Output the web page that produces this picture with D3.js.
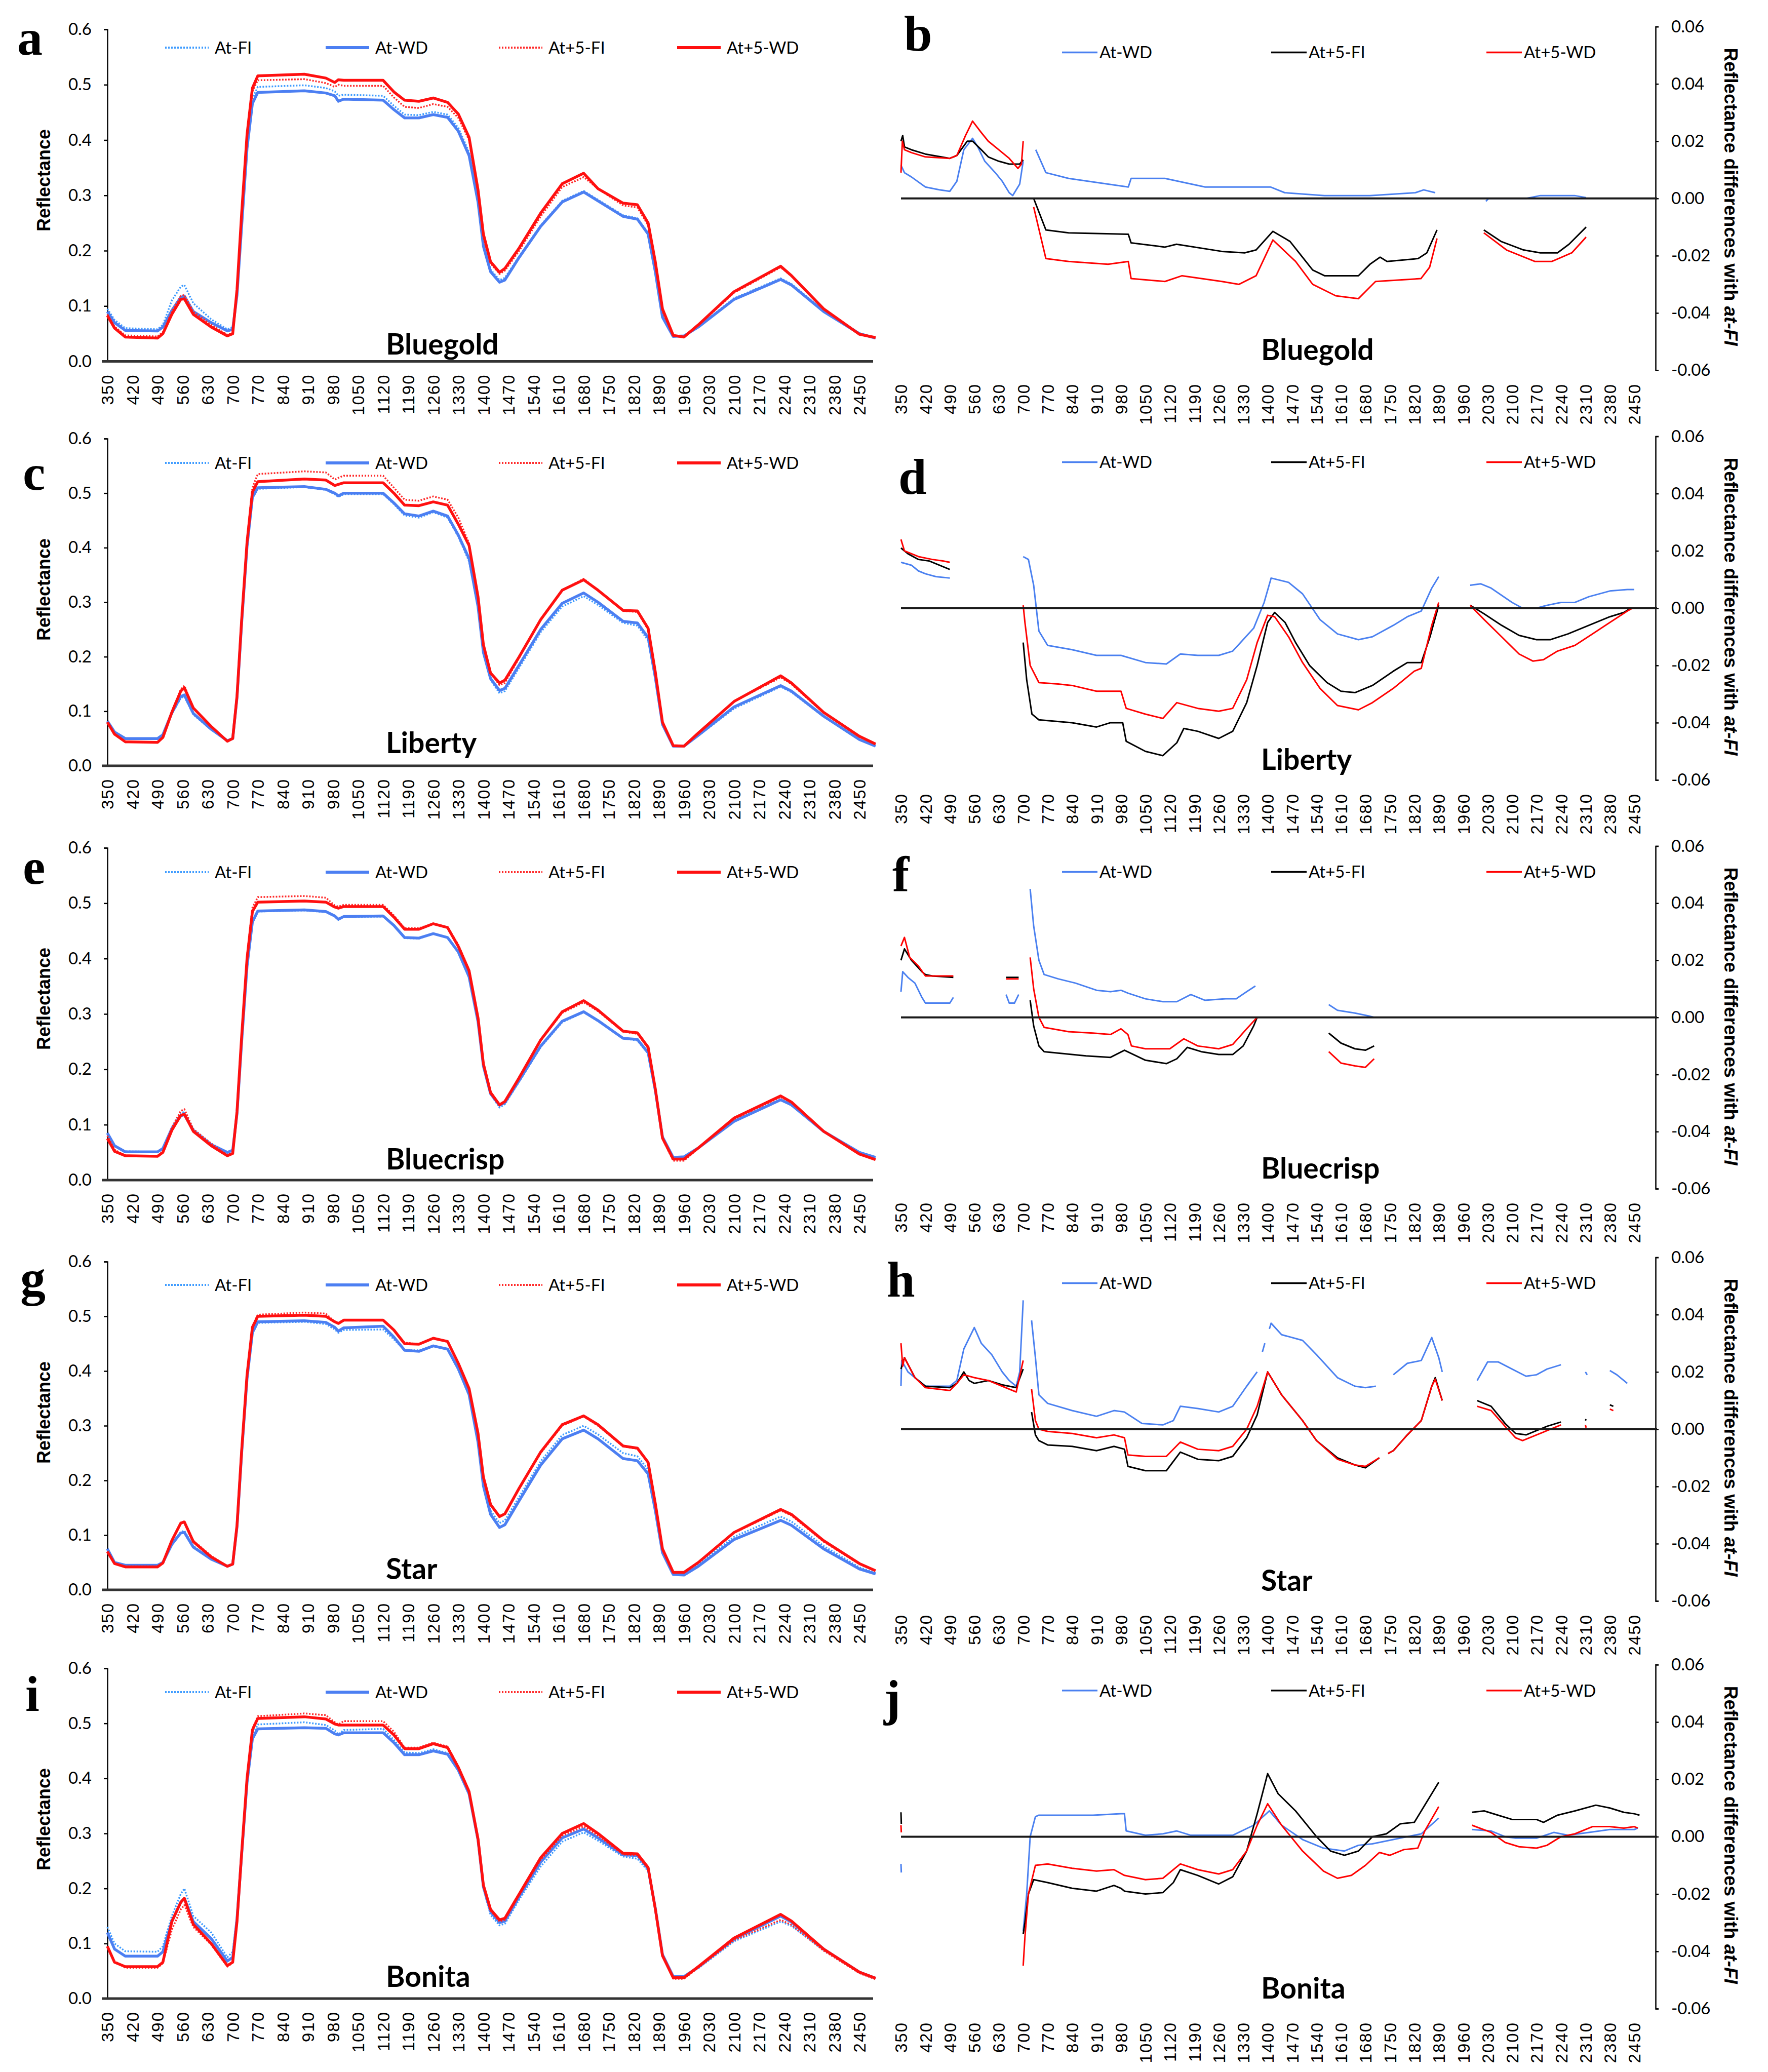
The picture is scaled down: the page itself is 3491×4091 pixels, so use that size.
<!DOCTYPE html>
<html><head><meta charset="utf-8">
<script src="https://cdn.jsdelivr.net/npm/d3@7"></script>
<style>body{margin:0;background:#fff}</style>
</head><body><svg id="c" width="3491" height="4091" xmlns="http://www.w3.org/2000/svg"></svg>
<script>
// ---------------- DATA ----------------
const CULTIVARS = ["Bluegold","Liberty","Bluecrisp","Star","Bonita"];
const LEFT_LETTERS = ["a","c","e","g","i"];
const RIGHT_LETTERS = ["b","d","f","h","j"];
const LEFT_SERIES = ["At-FI","At-WD","At+5-FI","At+5-WD"];
const RIGHT_SERIES = ["At-WD","At+5-FI","At+5-WD"];
const X_TICKS = [350,420,490,560,630,700,770,840,910,980,1050,1120,1190,1260,1330,1400,1470,1540,1610,1680,1750,1820,1890,1960,2030,2100,2170,2240,2310,2380,2450];
const Y_TICKS_L = [0,0.1,0.2,0.3,0.4,0.5,0.6];
const Y_TICKS_R = [-0.06,-0.04,-0.02,0,0.02,0.04,0.06];

// wavelengths (nm) at which reflectance was read
const WL = [350,370,400,490,505,530,555,565,590,640,685,700,712,725,740,755,770,900,960,985,995,1010,1120,1150,1180,1220,1260,1300,1330,1360,1385,1400,1420,1445,1460,1500,1560,1620,1680,1720,1790,1830,1860,1880,1900,1930,1960,2000,2100,2230,2260,2350,2450,2495];

// Bluegold
const a_AtFI  = [.095,.075,.060,.058,.066,.110,.135,.138,.105,.076,.058,.062,.130,.255,.395,.475,.496,.499,.494,.488,.480,.482,.480,.462,.446,.445,.451,.446,.422,.378,.292,.212,.166,.147,.151,.190,.246,.290,.308,.292,.264,.259,.232,.165,.082,.046,.046,.063,.114,.150,.140,.092,.051,.043];
const a_AtWD  = [.090,.070,.056,.055,.062,.092,.116,.118,.090,.070,.055,.058,.120,.245,.385,.466,.486,.489,.485,.480,.470,.474,.472,.455,.440,.440,.446,.441,.416,.372,.288,.208,.162,.143,.147,.188,.244,.288,.306,.290,.262,.257,.230,.162,.080,.045,.046,.062,.112,.148,.138,.090,.050,.042];
const a_At5FI = [.085,.063,.047,.045,.053,.090,.118,.120,.090,.066,.048,.052,.128,.262,.405,.488,.508,.510,.503,.496,.500,.498,.498,.477,.460,.458,.465,.460,.440,.400,.305,.224,.177,.158,.164,.200,.262,.315,.333,.312,.282,.278,.246,.175,.090,.046,.044,.065,.124,.170,.154,.094,.049,.043];
const a_At5WD = [.083,.060,.044,.042,.050,.085,.112,.113,.085,.062,.046,.050,.130,.268,.410,.494,.516,.519,.512,.504,.509,.508,.508,.487,.472,.470,.476,.468,.447,.405,.310,.230,.180,.161,.168,.205,.268,.321,.340,.312,.286,.283,.250,.180,.095,.047,.044,.066,.126,.172,.155,.095,.049,.043];
// Liberty
const c_AtFI  = [.080,.060,.050,.049,.056,.095,.124,.127,.094,.066,.046,.050,.125,.260,.400,.490,.508,.511,.506,.498,.493,.498,.498,.480,.459,.455,.465,.455,.420,.375,.290,.205,.158,.133,.137,.180,.245,.292,.311,.295,.262,.257,.230,.160,.075,.036,.036,.055,.105,.145,.135,.090,.048,.036];
const c_AtWD  = [.082,.062,.050,.050,.057,.097,.127,.130,.096,.067,.046,.050,.125,.262,.402,.492,.510,.512,.507,.500,.495,.500,.500,.482,.462,.458,.467,.458,.423,.380,.292,.208,.160,.138,.142,.185,.250,.298,.317,.300,.265,.262,.235,.162,.076,.036,.036,.056,.108,.147,.137,.091,.048,.036];
const c_At5FI = [.080,.058,.044,.043,.052,.100,.140,.147,.106,.072,.045,.050,.128,.270,.415,.510,.535,.540,.538,.525,.528,.532,.532,.510,.488,.486,.494,.488,.455,.408,.310,.222,.170,.148,.152,.198,.268,.322,.343,.322,.284,.282,.250,.172,.080,.037,.036,.060,.118,.162,.150,.097,.053,.040];
const c_At5WD = [.080,.058,.044,.043,.052,.098,.137,.143,.106,.072,.045,.050,.128,.268,.410,.502,.521,.526,.524,.514,.516,.519,.519,.500,.478,.477,.484,.478,.443,.404,.310,.222,.170,.152,.157,.200,.268,.322,.341,.322,.285,.284,.252,.172,.080,.037,.036,.060,.118,.165,.152,.098,.054,.040];
// Bluecrisp
const e_AtFI  = [.085,.062,.052,.051,.058,.095,.120,.124,.092,.066,.050,.055,.120,.250,.385,.465,.485,.487,.484,.476,.470,.475,.476,.460,.437,.436,.445,.438,.412,.365,.285,.205,.155,.131,.137,.178,.240,.285,.303,.287,.256,.252,.228,.160,.078,.041,.042,.058,.106,.145,.135,.088,.050,.041];
const e_AtWD  = [.085,.062,.051,.051,.057,.093,.116,.118,.090,.064,.050,.054,.120,.250,.386,.466,.486,.488,.485,.477,.471,.476,.477,.460,.438,.437,.445,.438,.412,.367,.286,.206,.156,.135,.140,.180,.242,.287,.304,.288,.256,.254,.230,.162,.078,.041,.042,.058,.106,.145,.136,.088,.050,.041];
const e_At5FI = [.080,.055,.044,.043,.052,.095,.125,.128,.092,.066,.045,.050,.125,.262,.405,.492,.511,.513,.510,.496,.494,.497,.497,.478,.455,.455,.463,.457,.425,.380,.295,.212,.160,.136,.142,.185,.252,.302,.321,.305,.268,.264,.238,.165,.075,.035,.035,.057,.110,.150,.140,.088,.047,.037];
const e_At5WD = [.075,.052,.044,.043,.050,.090,.117,.119,.088,.062,.044,.048,.124,.260,.400,.485,.502,.504,.502,.493,.491,.494,.494,.475,.453,.453,.463,.456,.422,.378,.293,.210,.158,.136,.142,.185,.253,.304,.324,.307,.269,.266,.240,.165,.076,.038,.038,.058,.112,.152,.141,.088,.047,.037];
// Star
const g_AtFI  = [.072,.050,.045,.045,.050,.085,.106,.108,.080,.057,.043,.047,.115,.250,.385,.468,.488,.490,.486,.476,.470,.475,.476,.458,.438,.438,.446,.440,.402,.355,.275,.195,.145,.122,.127,.170,.235,.283,.300,.284,.250,.244,.220,.150,.070,.030,.029,.047,.097,.134,.125,.080,.041,.031];
const g_AtWD  = [.075,.050,.045,.045,.050,.083,.104,.105,.078,.056,.043,.047,.115,.250,.386,.470,.490,.492,.489,.480,.473,.479,.482,.462,.438,.436,.446,.440,.404,.357,.270,.190,.138,.114,.119,.163,.228,.276,.292,.276,.240,.236,.212,.145,.068,.028,.027,.043,.092,.127,.118,.075,.038,.029];
const g_At5FI = [.070,.048,.043,.043,.050,.090,.122,.126,.090,.062,.043,.047,.118,.255,.395,.482,.503,.507,.505,.490,.487,.493,.493,.475,.452,.449,.460,.454,.414,.368,.285,.205,.155,.133,.138,.185,.250,.300,.317,.300,.262,.258,.232,.158,.075,.032,.031,.050,.104,.145,.136,.088,.047,.035];
const g_At5WD = [.070,.048,.042,.042,.049,.090,.122,.124,.088,.060,.043,.047,.118,.255,.393,.480,.500,.502,.500,.490,.487,.493,.493,.475,.450,.449,.460,.454,.414,.368,.286,.206,.156,.134,.139,.186,.252,.302,.318,.302,.263,.259,.233,.158,.075,.032,.032,.050,.105,.147,.138,.090,.048,.035];
// Bonita
const i_AtFI  = [.130,.100,.086,.085,.095,.150,.190,.200,.150,.120,.075,.085,.150,.265,.395,.478,.498,.502,.497,.487,.480,.488,.490,.470,.447,.446,.453,.446,.415,.370,.285,.200,.152,.133,.136,.180,.240,.285,.302,.287,.258,.254,.232,.162,.080,.040,.040,.055,.104,.140,.132,.088,.048,.037];
const i_AtWD  = [.120,.090,.077,.077,.085,.140,.175,.182,.140,.109,.068,.075,.145,.262,.392,.472,.490,.492,.491,.481,.479,.483,.483,.465,.443,.443,.450,.444,.415,.372,.288,.203,.158,.138,.141,.185,.248,.292,.308,.292,.261,.260,.236,.164,.080,.040,.040,.057,.108,.150,.139,.090,.048,.037];
const i_At5FI = [.095,.068,.056,.056,.064,.125,.162,.170,.130,.098,.058,.065,.140,.265,.400,.490,.513,.518,.515,.502,.498,.504,.504,.485,.456,.456,.465,.458,.422,.378,.290,.205,.160,.140,.143,.188,.252,.296,.313,.296,.262,.260,.236,.162,.078,.036,.036,.056,.106,.143,.134,.087,.046,.035];
const i_At5WD = [.095,.066,.058,.058,.066,.140,.175,.182,.135,.100,.060,.066,.140,.265,.400,.488,.509,.512,.508,.499,.497,.497,.497,.479,.454,.454,.463,.456,.420,.376,.290,.206,.162,.143,.146,.190,.256,.300,.318,.300,.264,.263,.238,.163,.078,.038,.038,.058,.110,.153,.141,.090,.048,.037];

// Differences with At-FI: [wavelength, difference], null = gap
const b_AtWD = [[350,.0116],[360,.009],[380,.0075],[420,.004],[460,.003],[490,.0025],[510,.006],[530,.017],[555,.021],[570,.018],[590,.013],[620,.009],[640,.006],[660,.002],[670,.001],[690,.005],[700,.013],null,[736,.017],[765,.009],[830,.007],[943,.005],[1001,.004],[1009,.007],[1106,.007],[1221,.004],[1408,.004],[1449,.002],[1563,.001],[1693,.001],[1823,.002],[1847,.003],[1880,.002],null,[2025,-.001],[2033,0],[2141,0],[2181,.001],[2279,.001],[2312,.0003]];
const b_At5FI = [[350,.02],[355,.022],[360,.018],[380,.017],[420,.0155],[490,.014],[510,.015],[540,.02],[555,.02],[580,.017],[600,.0145],[630,.013],[660,.012],[690,.012],[700,.0135],null,[730,0],[765,-.011],[830,-.012],[1001,-.0125],[1009,-.0155],[1106,-.017],[1139,-.016],[1269,-.0185],[1334,-.019],[1367,-.018],[1415,-.0115],[1464,-.015],[1529,-.025],[1563,-.027],[1660,-.027],[1693,-.023],[1722,-.0205],[1742,-.022],[1831,-.021],[1856,-.019],[1885,-.011],null,[2019,-.011],[2068,-.015],[2133,-.018],[2181,-.019],[2230,-.019],[2263,-.016],[2312,-.01]];
const b_At5WD = [[350,.009],[354,.02],[360,.017],[380,.016],[420,.0145],[490,.014],[510,.015],[535,.022],[555,.027],[580,.023],[600,.02],[630,.017],[660,.014],[685,.0105],[695,.012],[700,.02],null,[730,-.003],[765,-.021],[830,-.022],[943,-.023],[1001,-.022],[1009,-.028],[1106,-.029],[1155,-.027],[1269,-.029],[1318,-.03],[1367,-.027],[1415,-.0145],[1480,-.022],[1529,-.03],[1595,-.034],[1660,-.035],[1709,-.029],[1839,-.028],[1864,-.024],[1885,-.014],null,[2019,-.012],[2084,-.018],[2165,-.022],[2214,-.022],[2271,-.019],[2312,-.0135]];

const d_AtWD = [[350,.016],[380,.015],[400,.013],[420,.012],[450,.011],[490,.0105],null,[700,.018],[715,.017],[730,.008],[745,-.008],[770,-.013],[840,-.0145],[910,-.0165],[980,-.0165],[1050,-.019],[1110,-.0195],[1150,-.016],[1200,-.0165],[1260,-.0165],[1300,-.015],[1360,-.007],[1390,.002],[1410,.0105],[1460,.009],[1500,.005],[1550,-.004],[1600,-.009],[1660,-.011],[1700,-.01],[1760,-.006],[1800,-.003],[1840,-.001],[1870,.007],[1890,.011],null,[1980,.008],[2010,.0085],[2040,.007],[2100,.002],[2130,0],[2170,0],[2200,.001],[2240,.002],[2280,.002],[2320,.004],[2380,.006],[2430,.0065],[2450,.0065]];
const d_At5FI = [[350,.021],[370,.019],[400,.017],[430,.0165],[460,.015],[490,.0135],null,[700,-.012],[710,-.025],[725,-.037],[745,-.039],[840,-.04],[910,-.0415],[950,-.04],[985,-.04],[995,-.0465],[1050,-.05],[1100,-.0515],[1140,-.047],[1160,-.042],[1200,-.043],[1260,-.0455],[1300,-.043],[1340,-.033],[1370,-.02],[1400,-.005],[1420,-.0015],[1450,-.005],[1480,-.012],[1520,-.02],[1570,-.026],[1610,-.029],[1650,-.0295],[1700,-.027],[1760,-.022],[1800,-.019],[1840,-.019],[1865,-.01],[1890,.001],null,[1980,.001],[2020,-.002],[2070,-.006],[2120,-.0095],[2170,-.011],[2210,-.011],[2260,-.009],[2320,-.006],[2380,-.003],[2420,-.0015],[2440,0]];
const d_At5WD = [[350,.024],[360,.02],[400,.018],[440,.017],[470,.0165],[490,.016],null,[700,.001],[705,-.005],[720,-.02],[745,-.026],[800,-.0265],[840,-.027],[910,-.029],[980,-.029],[995,-.035],[1050,-.037],[1100,-.0385],[1140,-.033],[1200,-.035],[1260,-.036],[1300,-.035],[1340,-.025],[1370,-.012],[1400,-.0025],[1420,-.003],[1460,-.01],[1500,-.019],[1550,-.028],[1600,-.034],[1660,-.0355],[1700,-.033],[1760,-.028],[1820,-.022],[1840,-.021],[1870,-.006],[1890,.002],null,[1980,.001],[2020,-.004],[2070,-.01],[2120,-.016],[2160,-.0185],[2190,-.018],[2230,-.015],[2280,-.013],[2330,-.009],[2380,-.005],[2430,-.001],[2445,0]];

const f_AtWD = [[350,.009],[355,.016],[370,.014],[390,.012],[410,.007],[420,.005],[490,.005],[500,.007],null,[651,.008],[660,.005],[675,.005],[687,.008],null,[720,.045],[730,.032],[745,.02],[760,.015],[800,.0135],[850,.012],[910,.0095],[950,.009],[980,.0095],[1000,.0085],[1050,.0065],[1100,.0055],[1140,.0055],[1180,.008],[1220,.006],[1280,.0065],[1310,.0065],[1340,.009],[1365,.011],null,[1575,.0045],[1600,.0025],[1650,.0015],[1690,.0005],[1705,0]];
const f_At5FI = [[350,.02],[360,.024],[380,.02],[410,.016],[420,.015],[440,.0145],[500,.014],null,[651,.014],[687,.014],null,[720,.006],[730,-.003],[745,-.01],[760,-.012],[800,-.0125],[880,-.0135],[950,-.014],[990,-.0115],[1050,-.015],[1110,-.0162],[1140,-.0145],[1170,-.0105],[1210,-.012],[1260,-.013],[1300,-.013],[1330,-.01],[1360,-.003],[1370,0],null,[1575,-.0055],[1610,-.009],[1650,-.011],[1680,-.0115],[1705,-.01]];
const f_At5WD = [[350,.025],[360,.028],[375,.021],[400,.018],[420,.0145],[500,.0145],null,[651,.0135],[687,.0135],null,[720,.021],[730,.01],[745,0],[760,-.0035],[830,-.005],[900,-.0055],[950,-.006],[980,-.004],[1000,-.006],[1010,-.01],[1050,-.011],[1120,-.011],[1160,-.0075],[1200,-.01],[1260,-.011],[1300,-.0095],[1340,-.004],[1370,0],null,[1575,-.012],[1610,-.016],[1650,-.017],[1680,-.0175],[1705,-.0145]];

const h_AtWD = [[350,.015],[352,.024],[370,.02],[400,.017],[420,.015],[490,.015],[510,.017],[530,.028],[560,.0355],[580,.03],[610,.026],[640,.02],[660,.017],[680,.015],[690,.02],[700,.045],null,[724,.038],[735,.025],[745,.012],[770,.009],[840,.0065],[910,.0045],[960,.0065],[990,.006],[1040,.002],[1100,.0015],[1130,.003],[1150,.008],[1200,.0072],[1260,.006],[1300,.008],[1340,.015],[1370,.02],null,[1385,.027],[1392,.03],null,[1405,.035],[1410,.037],[1440,.033],[1500,.031],[1540,.026],[1600,.018],[1650,.015],[1680,.0145],[1710,.015],null,[1760,.019],[1800,.023],[1840,.024],[1870,.032],[1890,.025],[1900,.02],null,[2000,.017],[2030,.0235],[2060,.0235],[2100,.021],[2140,.0185],[2170,.019],[2200,.021],[2240,.0225],null,[2310,.02],[2315,.019],null,[2380,.0205],[2400,.019],[2430,.016]];
const h_At5FI = [[350,.021],[360,.025],[390,.018],[420,.015],[490,.0145],[510,.016],[530,.02],[545,.017],[560,.016],[600,.017],[640,.0155],[680,.0145],[700,.021],null,[724,.006],[735,-.002],[745,-.004],[770,-.0055],[840,-.006],[910,-.0075],[960,-.006],[990,-.007],[1000,-.013],[1050,-.0145],[1110,-.0145],[1150,-.008],[1200,-.0105],[1260,-.011],[1300,-.0095],[1340,-.003],[1370,.005],[1400,.02],[1440,.012],[1500,.003],[1540,-.004],[1600,-.01],[1650,-.0125],[1680,-.0135],[1720,-.01],null,[1745,-.0085],[1760,-.0075],[1800,-.002],[1840,.003],[1870,.015],[1880,.018],[1900,.01],null,[2000,.01],[2040,.008],[2080,.002],[2110,-.0015],[2140,-.002],[2170,-.0005],[2200,.001],[2240,.0025],null,[2310,.003],[2312,.0035],null,[2380,.0085],[2390,.008]];
const h_At5WD = [[350,.03],[355,.022],[360,.025],[390,.018],[420,.0145],[490,.0135],[510,.016],[530,.019],[560,.018],[600,.017],[640,.015],[680,.013],[700,.024],null,[724,.014],[735,.003],[745,0],[770,-.0008],[840,-.0015],[910,-.003],[960,-.002],[990,-.003],[1000,-.009],[1050,-.0095],[1110,-.0095],[1150,-.0045],[1200,-.007],[1260,-.0075],[1300,-.006],[1340,0],[1370,.008],[1400,.02],[1440,.012],[1500,.003],[1540,-.004],[1600,-.0105],[1650,-.0125],[1680,-.013],[1720,-.01],null,[1745,-.0085],[1760,-.0075],[1800,-.002],[1840,.003],[1870,.015],[1880,.0175],[1900,.01],null,[2000,.008],[2040,.0065],[2080,.001],[2110,-.003],[2130,-.004],[2170,-.002],[2200,-.0005],[2240,.0015],null,[2310,.0015],[2312,.0005],null,[2380,.007],[2390,.0065]];

const j_AtWD = [[350,-.0095],[351,-.0125],null,[700,-.033],[710,-.02],[720,0],[735,.007],[745,.0075],[800,.0075],[900,.0075],[980,.008],[990,.008],[995,.002],[1050,.0005],[1100,.001],[1140,.002],[1180,.0005],[1240,.0005],[1300,.0005],[1360,.004],[1405,.009],[1440,.004],[1500,-.001],[1560,-.004],[1620,-.005],[1660,-.003],[1700,-.0025],[1760,-.001],[1800,0],[1840,.001],[1890,.0065],null,[1985,.0025],[2040,.002],[2080,0],[2110,-.0005],[2170,-.0005],[2220,.0015],[2260,.0005],[2320,.0015],[2380,.0025],[2450,.0025],[2460,.003]];
const j_At5FI = [[350,.0085],[351,.0045],null,[700,-.034],[705,-.03],[715,-.02],[730,-.015],[770,-.016],[840,-.018],[910,-.019],[960,-.017],[980,-.018],[990,-.019],[1050,-.02],[1100,-.0195],[1130,-.016],[1150,-.0115],[1200,-.0135],[1260,-.0165],[1300,-.014],[1340,-.005],[1370,.008],[1400,.022],[1430,.015],[1480,.009],[1540,0],[1580,-.005],[1620,-.0065],[1660,-.005],[1700,0],[1740,.001],[1780,.0045],[1820,.005],[1840,.009],[1870,.015],[1890,.019],null,[1985,.0085],[2020,.009],[2060,.0075],[2100,.006],[2170,.006],[2190,.005],[2230,.0075],[2280,.009],[2340,.011],[2380,.01],[2420,.0085],[2450,.008],[2465,.0075]];
const j_At5WD = [[350,.004],[351,.0015],null,[700,-.045],[705,-.035],[715,-.02],[735,-.01],[770,-.0095],[840,-.011],[910,-.012],[960,-.0115],[990,-.0135],[1050,-.015],[1100,-.0145],[1150,-.0095],[1200,-.0115],[1260,-.013],[1300,-.0115],[1340,-.005],[1370,.004],[1400,.0115],[1440,.004],[1500,-.005],[1560,-.012],[1600,-.0145],[1640,-.0135],[1680,-.01],[1720,-.0055],[1750,-.0065],[1790,-.0045],[1830,-.004],[1850,.002],[1890,.0105],null,[1985,.004],[2040,.0015],[2080,-.002],[2120,-.0035],[2170,-.004],[2200,-.003],[2240,0],[2280,.001],[2330,.0035],[2380,.0035],[2420,.003],[2450,.0035],[2460,.003]];

const LEFT_DATA  = [[a_AtFI,a_AtWD,a_At5FI,a_At5WD],[c_AtFI,c_AtWD,c_At5FI,c_At5WD],[e_AtFI,e_AtWD,e_At5FI,e_At5WD],[g_AtFI,g_AtWD,g_At5FI,g_At5WD],[i_AtFI,i_AtWD,i_At5FI,i_At5WD]];
const RIGHT_DATA = [[b_AtWD,b_At5FI,b_At5WD],[d_AtWD,d_At5FI,d_At5WD],[f_AtWD,f_At5FI,f_At5WD],[h_AtWD,h_At5FI,h_At5WD],[j_AtWD,j_At5FI,j_At5WD]];

// ---------------- LAYOUT / STYLE ----------------
const L_TOP = [58,866,1674,2491,3294], L_BOT = [713.5,1512,2330,3139,3946];
const R_TOP = [52.6,861.5,1670.5,2482.6,3286.8], R_BOT = [731,1540,2347,3161,3966];
const L_LEG_OFF = [36,48,48,46,47];
const L_NAME_OFF = [14,25,21,21,23];
const L_LETTER_POS = [[34,108],[45,967],[45,1745],[40,2558],[50,3378]];
const R_LETTER_POS = [[1785,100],[1774,975],[1762,1760],[1751,2560],[1745,3386]];
const BLUE = "#4c7ff2", BLUE_DOT = "#3d9bff", RED = "#ff1010", RED_DOT = "#ff2a2a";
const L_STYLE = [
  {c:BLUE_DOT, w:3.5, dash:"3,3"},
  {c:BLUE, w:5.5, dash:null},
  {c:RED_DOT, w:3.5, dash:"3,3"},
  {c:RED, w:5.5, dash:null}];
const R_STYLE = [{c:"#4a80f0"},{c:"#000000"},{c:"#ff0000"}];
const NUM_FONT = "Lato, 'Open Sans', sans-serif";
const XT_FONT = "'Liberation Sans', Arial, sans-serif";
const Y_AXIS_X = 212;

const svg = d3.select("#c");
svg.append("rect").attr("width",3491).attr("height",4091).attr("fill","#fff");

const xL = d3.scaleLinear().domain([350,2450]).range([212,1697]);
const xR = d3.scaleLinear().domain([350,2450]).range([1779,3227]);

function xTickAxis(g, scale, y, offset) {
  const ax = d3.axisBottom(scale).tickValues(X_TICKS).tickSize(0).tickFormat(d3.format("d"));
  const gg = g.append("g").attr("transform",`translate(0,${y})`).call(ax);
  gg.select(".domain").remove();
  gg.selectAll("text")
    .attr("transform","rotate(-90)")
    .attr("text-anchor","end")
    .attr("x",-offset).attr("y",0).attr("dy","0.36em")
    .style("font-family",XT_FONT).style("font-size","33px")
    .style("letter-spacing","2px").attr("fill","#000");
}

for (let p = 0; p < 5; p++) {
  // ===== left panel =====
  const gL = svg.append("g");
  const yL = d3.scaleLinear().domain([0,0.6]).range([L_BOT[p], L_TOP[p]]);
  const ya = d3.axisLeft(yL).tickValues(Y_TICKS_L).tickSize(7).tickPadding(24).tickFormat(d3.format(".1f"));
  const yg = gL.append("g").attr("transform",`translate(${Y_AXIS_X},0)`).call(ya);
  yg.select(".domain").attr("stroke","#000").attr("stroke-width",2.5);
  yg.selectAll(".tick line").attr("stroke","#000").attr("stroke-width",2.5);
  yg.selectAll("text").style("font-family",NUM_FONT).style("font-size","33px").attr("fill","#000");
  gL.append("line").attr("x1",201).attr("x2",1724).attr("y1",yL(0)).attr("y2",yL(0))
    .attr("stroke","#333").attr("stroke-width",5);
  xTickAxis(gL, xL, yL(0), 25);
  gL.append("text").attr("transform",`translate(86,${L_TOP[p]+298}) rotate(-90)`)
    .attr("text-anchor","middle").attr("dy","0.35em")
    .style("font-family","'Liberation Sans', Arial, sans-serif").style("font-weight","bold").style("font-size","36px")
    .text("Reflectance");
  const lineL = d3.line().x((d,i)=>xL(WL[i])).y(d=>yL(d));
  LEFT_DATA[p].forEach((s,k)=>{
    const st = L_STYLE[k];
    gL.append("path").datum(s).attr("d",lineL).attr("fill","none")
      .attr("stroke",st.c).attr("stroke-width",st.w).attr("stroke-linejoin","round")
      .attr("stroke-dasharray",st.dash);
  });
  const ly = L_TOP[p] + L_LEG_OFF[p];
  const LX = [326,643,985,1337];
  LEFT_SERIES.forEach((name,k)=>{
    const st = L_STYLE[k];
    gL.append("line").attr("x1",LX[k]).attr("x2",LX[k]+86).attr("y1",ly).attr("y2",ly)
      .attr("stroke",st.c).attr("stroke-width",st.dash?4:6).attr("stroke-dasharray",st.dash);
    gL.append("text").attr("x",LX[k]+98).attr("y",ly).attr("dy","0.36em")
      .style("font-family",NUM_FONT).style("font-size","33px").text(name);
  });
  gL.append("text").attr("x",762).attr("y",L_BOT[p]-L_NAME_OFF[p])
    .style("font-family",NUM_FONT).style("font-weight","bold").style("font-size","57px")
    .text(CULTIVARS[p]);
  gL.append("text").attr("x",L_LETTER_POS[p][0]).attr("y",L_LETTER_POS[p][1])
    .style("font-family","'Liberation Serif', 'Times New Roman', serif").style("font-weight","bold").style("font-size","100px")
    .text(LEFT_LETTERS[p]);

  // ===== right panel =====
  const gR = svg.append("g");
  const yR = d3.scaleLinear().domain([-0.06,0.06]).range([R_BOT[p], R_TOP[p]]);
  const ra = d3.axisRight(yR).tickValues(Y_TICKS_R).tickSize(6).tickPadding(25).tickFormat(d=>d.toFixed(2));
  const rg = gR.append("g").attr("transform","translate(3269,0)").call(ra);
  rg.select(".domain").attr("stroke","#000").attr("stroke-width",2.5);
  rg.selectAll(".tick line").attr("stroke","#000").attr("stroke-width",2.5);
  rg.selectAll("text").style("font-family",NUM_FONT).style("font-size","33px").attr("fill","#000");
  xTickAxis(gR, xR, R_BOT[p], 26);
  const rt = gR.append("text").attr("transform",`translate(3418,${R_TOP[p]+336}) rotate(90)`)
    .attr("text-anchor","middle").attr("dy","0.35em")
    .style("font-family","'Liberation Sans', Arial, sans-serif").style("font-weight","bold").style("font-size","37px");
  rt.append("tspan").text("Reflectance differences with ");
  rt.append("tspan").style("font-style","italic").text("at-FI");
  const lineR = d3.line().defined(d=>d!==null).x(d=>xR(d[0])).y(d=>yR(d[1]));
  RIGHT_DATA[p].forEach((s,k)=>{
    gR.append("path").datum(s).attr("d",lineR).attr("fill","none")
      .attr("stroke",R_STYLE[k].c).attr("stroke-width",3).attr("stroke-linejoin","round");
  });
  gR.append("line").attr("x1",1779).attr("x2",3272).attr("y1",yR(0)).attr("y2",yR(0))
    .attr("stroke","#1a1a1a").attr("stroke-width",4);
  const ry = R_TOP[p] + 51;
  const RX = [2097,2510,2935];
  RIGHT_SERIES.forEach((name,k)=>{
    gR.append("line").attr("x1",RX[k]).attr("x2",RX[k]+70).attr("y1",ry).attr("y2",ry)
      .attr("stroke",R_STYLE[k].c).attr("stroke-width",3.5);
    gR.append("text").attr("x",RX[k]+74).attr("y",ry).attr("dy","0.36em")
      .style("font-family",NUM_FONT).style("font-size","33px").text(name);
  });
  gR.append("text").attr("x",2490).attr("y",R_BOT[p]-20)
    .style("font-family",NUM_FONT).style("font-weight","bold").style("font-size","57px")
    .text(CULTIVARS[p]);
  gR.append("text").attr("x",R_LETTER_POS[p][0]).attr("y",R_LETTER_POS[p][1])
    .style("font-family","'Liberation Serif', 'Times New Roman', serif").style("font-weight","bold").style("font-size","100px")
    .text(RIGHT_LETTERS[p]);
}
</script>
</body></html>
